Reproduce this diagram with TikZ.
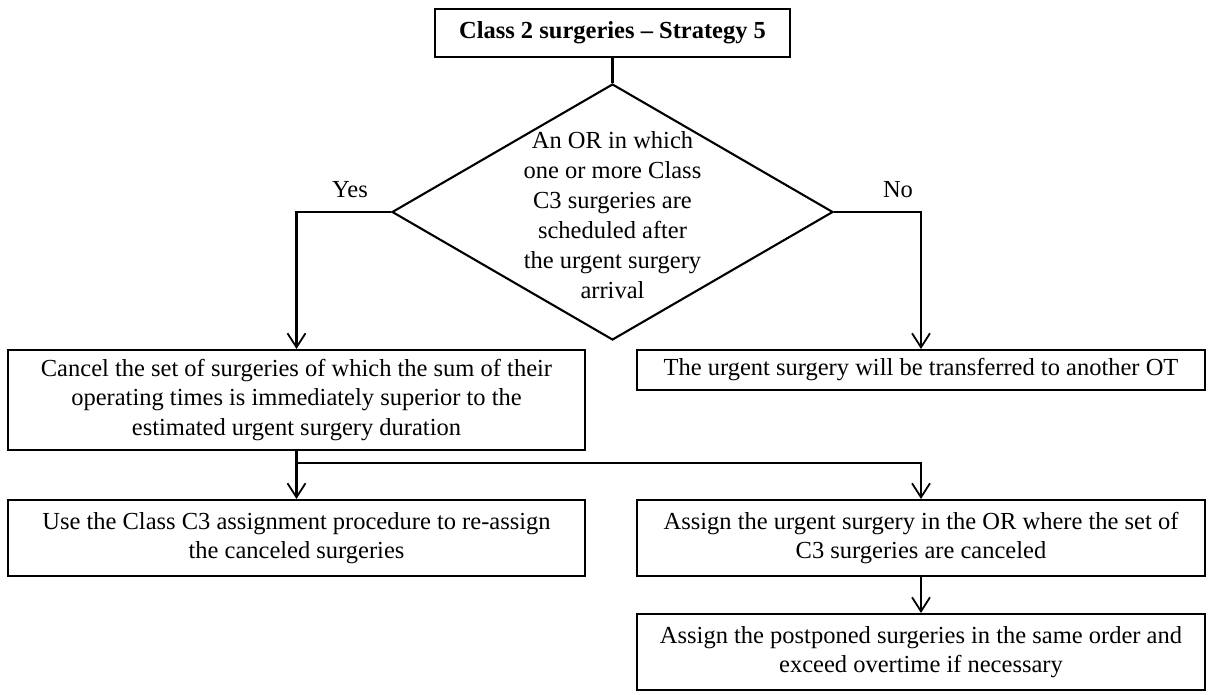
\documentclass[tikz,border=0pt]{standalone}
\usepackage{fontspec}
\setmainfont{Liberation Serif}
\usetikzlibrary{shapes.geometric,arrows.meta}
\begin{document}
\begin{tikzpicture}[x=1pt,y=-1pt,
  every node/.style={font=\fontsize{24.5}{29.5}\selectfont},
  boxnode/.style={draw,line width=2.1pt,align=center,inner sep=0pt},
  line/.style={line width=2.1pt},
  arr/.style={line width=2.1pt,-{Straight Barb[length=14pt,width=18pt,line width=1.8pt]}},
  lbl/.style={inner sep=0pt}
]
\useasboundingbox (0,0) rectangle (1210,695);
\node[boxnode,minimum width=355pt,minimum height=48pt,font=\fontsize{24.5}{29.5}\selectfont\bfseries] (title) at (612.5,33) {Class 2 surgeries -- Strategy 5};
\node[draw,line width=2.1pt,shape=diamond,minimum width=441pt,minimum height=256pt,inner sep=0pt] (dec) at (612.5,212) {};
\node[align=center,inner sep=0pt,font=\fontsize{24.5}{30}\selectfont] (dectext) at (612.5,215) {An OR in which\\one or more Class\\C3 surgeries are\\scheduled after\\the urgent surgery\\arrival};
\node[boxnode,minimum width=577pt,minimum height=100pt] (cancel) at (296.5,400) {Cancel the set of surgeries of which the sum of their\\operating times is immediately superior to the\\estimated urgent surgery duration};
\node[boxnode,minimum width=568pt,minimum height=40pt] (transfer) at (921,370) {The urgent surgery will be transferred to another OT};
\node[boxnode,minimum width=577pt,minimum height=76pt] (usec) at (296.5,538) {Use the Class C3 assignment procedure to re-assign\\the canceled surgeries};
\node[boxnode,minimum width=568pt,minimum height=76pt] (assign) at (921,538) {Assign the urgent surgery in the OR where the set of\\C3 surgeries are canceled};
\node[boxnode,minimum width=568pt,minimum height=76pt] (post) at (921,652) {Assign the postponed surgeries in the same order and\\exceed overtime if necessary};
\coordinate (j) at (296.5,463);
\draw[line] (title.south) -- (dec.north);
\draw[arr] (dec.west) -| (cancel.north);
\draw[arr] (dec.east) -| (transfer.north);
\node[lbl] (yes) at (350,190) {Yes};
\node[lbl] (no) at (898,190) {No};
\draw[arr] (cancel.south) -- (usec.north);
\draw[arr] (j) -| (assign.north);
\draw[arr] (assign.south) -- (post.north);
\end{tikzpicture}
\end{document}
